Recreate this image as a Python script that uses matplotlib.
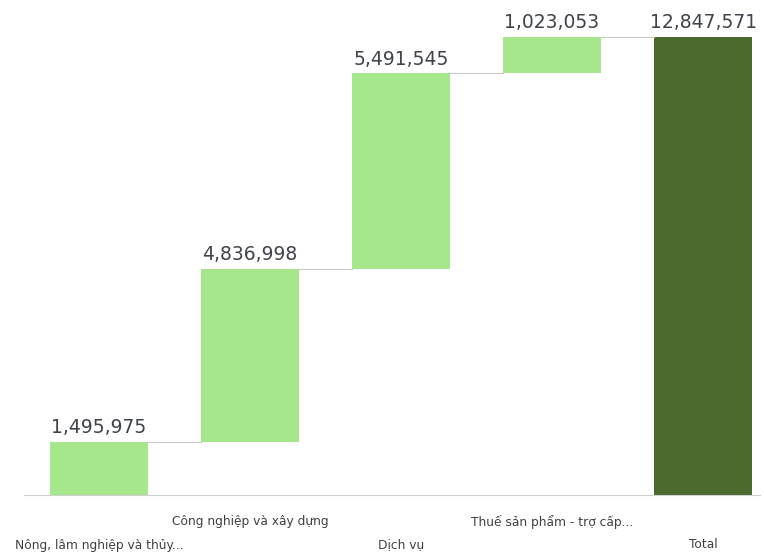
import matplotlib
matplotlib.use("Agg")
import matplotlib.pyplot as plt
import numpy as np

categories = ["Nông, lâm nghiệp và thủy...", "Công nghiệp và xây dựng", "Dịch vụ",
              "Thuế sản phẩm - trợ cấp...", "Total"]
increments = [1495975, 4836998, 5491545, 1023053]
total = 12847571
value_labels = ["1,495,975", "4,836,998", "5,491,545", "1,023,053", "12,847,571"]

plt.rcParams['font.family'] = ['DejaVu Sans']

fig = plt.figure(figsize=(7.64, 5.53), dpi=100)
ax = fig.add_axes([23.5/764, 1-495/553, (760-23.5)/764, 495/553])

light = "#a6e68c"
dark = "#4b6a2d"
width = 0.65

x = np.arange(len(categories))
bottoms = np.concatenate([[0], np.cumsum(increments)[:-1]])
tops = np.cumsum(increments)

ax.bar(x[:4], increments, bottom=bottoms, width=width, color=light, edgecolor='none')
ax.bar(x[4], total, width=width, color=dark, edgecolor='none')

all_tops = list(tops) + [total]
for i in range(len(categories)):
    ax.annotate(value_labels[i], (x[i], all_tops[i]), xytext=(0, 3.5), textcoords='offset points',
                ha='center', va='bottom', fontsize=13.5, color='#3f434a')
    if i < len(categories) - 1:
        ax.plot([x[i] + width/2, x[i+1] - width/2], [all_tops[i], all_tops[i]],
                color='#c8c8c8', lw=0.8)

ax.set_xlim(-0.5, 4.377)
ax.set_ylim(0, 13885000)
for s in ['top', 'right', 'left']:
    ax.spines[s].set_visible(False)
ax.spines['bottom'].set_color('#d0d0d0')
ax.spines['bottom'].set_linewidth(0.8)
ax.set_yticks([])
ax.set_xticks(x)
ax.set_xticklabels([])
ax.tick_params(axis='x', length=0)

for i, c in enumerate(categories):
    off = -50 if i % 2 == 0 else -27
    ax.annotate(c, (x[i], 0), xytext=(0, off * 0.72), textcoords='offset points',
                ha='center', va='center', fontsize=8.8, color='#404040')

fig.savefig("out.png", dpi=100, facecolor='white')
